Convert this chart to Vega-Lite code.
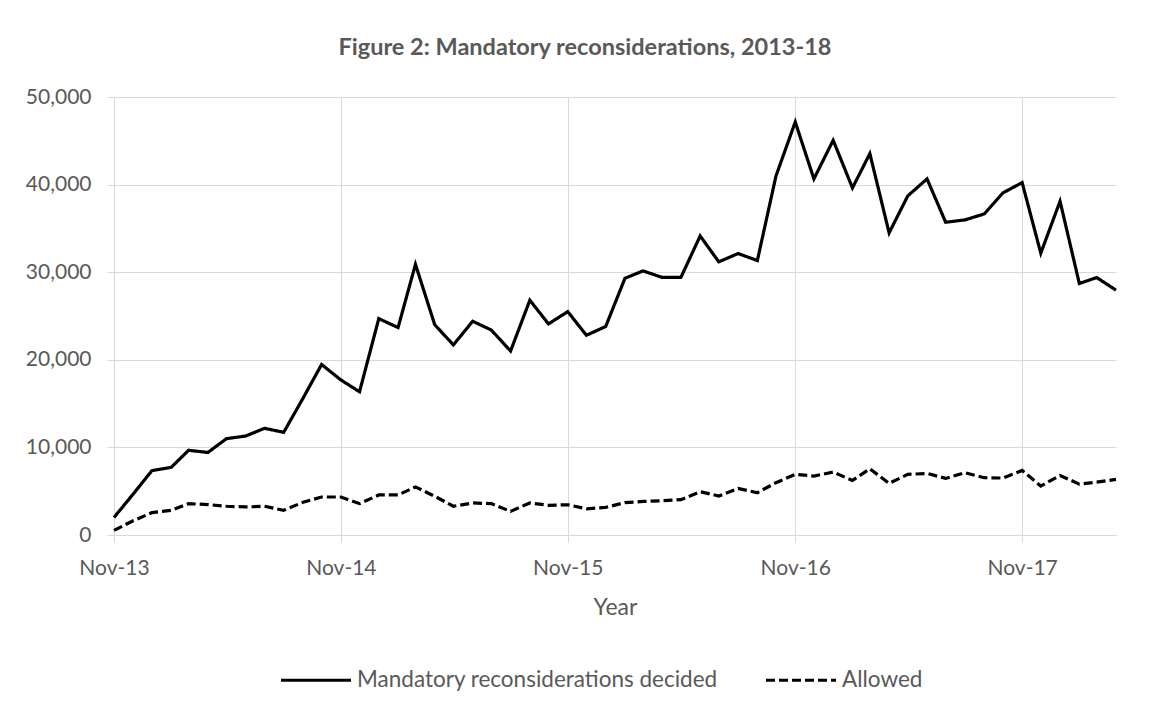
{
  "$schema": "https://vega.github.io/schema/vega-lite/v6.json",
  "width": 1002,
  "height": 438,
  "autosize": "none",
  "padding": {"left": 114, "top": 97, "right": 55, "bottom": 174},
  "background": "white",
  "title": {
    "text": "Figure 2: Mandatory reconsiderations, 2013-18",
    "anchor": "middle",
    "frame": "group",
    "dx": -30,
    "offset": 27,
    "font": "Lato",
    "fontSize": 23.5,
    "fontWeight": "bold",
    "color": "#595959"
  },
  "data": {
    "values": [
      {"date": "2013-11-01", "series": "Mandatory reconsiderations decided", "value": 2000},
      {"date": "2013-12-01", "series": "Mandatory reconsiderations decided", "value": 4600},
      {"date": "2014-01-01", "series": "Mandatory reconsiderations decided", "value": 7350},
      {"date": "2014-02-01", "series": "Mandatory reconsiderations decided", "value": 7720},
      {"date": "2014-03-01", "series": "Mandatory reconsiderations decided", "value": 9670},
      {"date": "2014-04-01", "series": "Mandatory reconsiderations decided", "value": 9420},
      {"date": "2014-05-01", "series": "Mandatory reconsiderations decided", "value": 11000},
      {"date": "2014-06-01", "series": "Mandatory reconsiderations decided", "value": 11300},
      {"date": "2014-07-01", "series": "Mandatory reconsiderations decided", "value": 12180},
      {"date": "2014-08-01", "series": "Mandatory reconsiderations decided", "value": 11720},
      {"date": "2014-09-01", "series": "Mandatory reconsiderations decided", "value": 15600},
      {"date": "2014-10-01", "series": "Mandatory reconsiderations decided", "value": 19470},
      {"date": "2014-11-01", "series": "Mandatory reconsiderations decided", "value": 17700},
      {"date": "2014-12-01", "series": "Mandatory reconsiderations decided", "value": 16350},
      {"date": "2015-01-01", "series": "Mandatory reconsiderations decided", "value": 24700},
      {"date": "2015-02-01", "series": "Mandatory reconsiderations decided", "value": 23680},
      {"date": "2015-03-01", "series": "Mandatory reconsiderations decided", "value": 30900},
      {"date": "2015-04-01", "series": "Mandatory reconsiderations decided", "value": 24000},
      {"date": "2015-05-01", "series": "Mandatory reconsiderations decided", "value": 21700},
      {"date": "2015-06-01", "series": "Mandatory reconsiderations decided", "value": 24400},
      {"date": "2015-07-01", "series": "Mandatory reconsiderations decided", "value": 23400},
      {"date": "2015-08-01", "series": "Mandatory reconsiderations decided", "value": 21000},
      {"date": "2015-09-01", "series": "Mandatory reconsiderations decided", "value": 26800},
      {"date": "2015-10-01", "series": "Mandatory reconsiderations decided", "value": 24100},
      {"date": "2015-11-01", "series": "Mandatory reconsiderations decided", "value": 25500},
      {"date": "2015-12-01", "series": "Mandatory reconsiderations decided", "value": 22800},
      {"date": "2016-01-01", "series": "Mandatory reconsiderations decided", "value": 23800},
      {"date": "2016-02-01", "series": "Mandatory reconsiderations decided", "value": 29300},
      {"date": "2016-03-01", "series": "Mandatory reconsiderations decided", "value": 30150},
      {"date": "2016-04-01", "series": "Mandatory reconsiderations decided", "value": 29400},
      {"date": "2016-05-01", "series": "Mandatory reconsiderations decided", "value": 29400},
      {"date": "2016-06-01", "series": "Mandatory reconsiderations decided", "value": 34140},
      {"date": "2016-07-01", "series": "Mandatory reconsiderations decided", "value": 31180},
      {"date": "2016-08-01", "series": "Mandatory reconsiderations decided", "value": 32130},
      {"date": "2016-09-01", "series": "Mandatory reconsiderations decided", "value": 31330},
      {"date": "2016-10-01", "series": "Mandatory reconsiderations decided", "value": 40990},
      {"date": "2016-11-01", "series": "Mandatory reconsiderations decided", "value": 47150},
      {"date": "2016-12-01", "series": "Mandatory reconsiderations decided", "value": 40650},
      {"date": "2017-01-01", "series": "Mandatory reconsiderations decided", "value": 45060},
      {"date": "2017-02-01", "series": "Mandatory reconsiderations decided", "value": 39620},
      {"date": "2017-03-01", "series": "Mandatory reconsiderations decided", "value": 43540},
      {"date": "2017-04-01", "series": "Mandatory reconsiderations decided", "value": 34490},
      {"date": "2017-05-01", "series": "Mandatory reconsiderations decided", "value": 38710},
      {"date": "2017-06-01", "series": "Mandatory reconsiderations decided", "value": 40650},
      {"date": "2017-07-01", "series": "Mandatory reconsiderations decided", "value": 35700},
      {"date": "2017-08-01", "series": "Mandatory reconsiderations decided", "value": 35970},
      {"date": "2017-09-01", "series": "Mandatory reconsiderations decided", "value": 36650},
      {"date": "2017-10-01", "series": "Mandatory reconsiderations decided", "value": 39050},
      {"date": "2017-11-01", "series": "Mandatory reconsiderations decided", "value": 40230},
      {"date": "2017-12-01", "series": "Mandatory reconsiderations decided", "value": 32170},
      {"date": "2018-01-01", "series": "Mandatory reconsiderations decided", "value": 38100},
      {"date": "2018-02-01", "series": "Mandatory reconsiderations decided", "value": 28710},
      {"date": "2018-03-01", "series": "Mandatory reconsiderations decided", "value": 29390},
      {"date": "2018-04-01", "series": "Mandatory reconsiderations decided", "value": 27950},
      {"date": "2013-11-01", "series": "Allowed", "value": 530},
      {"date": "2013-12-01", "series": "Allowed", "value": 1600},
      {"date": "2014-01-01", "series": "Allowed", "value": 2550},
      {"date": "2014-02-01", "series": "Allowed", "value": 2820},
      {"date": "2014-03-01", "series": "Allowed", "value": 3580},
      {"date": "2014-04-01", "series": "Allowed", "value": 3470},
      {"date": "2014-05-01", "series": "Allowed", "value": 3280},
      {"date": "2014-06-01", "series": "Allowed", "value": 3200},
      {"date": "2014-07-01", "series": "Allowed", "value": 3280},
      {"date": "2014-08-01", "series": "Allowed", "value": 2820},
      {"date": "2014-09-01", "series": "Allowed", "value": 3730},
      {"date": "2014-10-01", "series": "Allowed", "value": 4340},
      {"date": "2014-11-01", "series": "Allowed", "value": 4340},
      {"date": "2014-12-01", "series": "Allowed", "value": 3580},
      {"date": "2015-01-01", "series": "Allowed", "value": 4570},
      {"date": "2015-02-01", "series": "Allowed", "value": 4570},
      {"date": "2015-03-01", "series": "Allowed", "value": 5490},
      {"date": "2015-04-01", "series": "Allowed", "value": 4420},
      {"date": "2015-05-01", "series": "Allowed", "value": 3280},
      {"date": "2015-06-01", "series": "Allowed", "value": 3660},
      {"date": "2015-07-01", "series": "Allowed", "value": 3580},
      {"date": "2015-08-01", "series": "Allowed", "value": 2700},
      {"date": "2015-09-01", "series": "Allowed", "value": 3660},
      {"date": "2015-10-01", "series": "Allowed", "value": 3390},
      {"date": "2015-11-01", "series": "Allowed", "value": 3450},
      {"date": "2015-12-01", "series": "Allowed", "value": 2990},
      {"date": "2016-01-01", "series": "Allowed", "value": 3150},
      {"date": "2016-02-01", "series": "Allowed", "value": 3700},
      {"date": "2016-03-01", "series": "Allowed", "value": 3830},
      {"date": "2016-04-01", "series": "Allowed", "value": 3910},
      {"date": "2016-05-01", "series": "Allowed", "value": 4030},
      {"date": "2016-06-01", "series": "Allowed", "value": 4940},
      {"date": "2016-07-01", "series": "Allowed", "value": 4450},
      {"date": "2016-08-01", "series": "Allowed", "value": 5320},
      {"date": "2016-09-01", "series": "Allowed", "value": 4830},
      {"date": "2016-10-01", "series": "Allowed", "value": 5970},
      {"date": "2016-11-01", "series": "Allowed", "value": 6920},
      {"date": "2016-12-01", "series": "Allowed", "value": 6730},
      {"date": "2017-01-01", "series": "Allowed", "value": 7180},
      {"date": "2017-02-01", "series": "Allowed", "value": 6230},
      {"date": "2017-03-01", "series": "Allowed", "value": 7560},
      {"date": "2017-04-01", "series": "Allowed", "value": 5890},
      {"date": "2017-05-01", "series": "Allowed", "value": 6920},
      {"date": "2017-06-01", "series": "Allowed", "value": 7030},
      {"date": "2017-07-01", "series": "Allowed", "value": 6460},
      {"date": "2017-08-01", "series": "Allowed", "value": 7110},
      {"date": "2017-09-01", "series": "Allowed", "value": 6540},
      {"date": "2017-10-01", "series": "Allowed", "value": 6500},
      {"date": "2017-11-01", "series": "Allowed", "value": 7370},
      {"date": "2017-12-01", "series": "Allowed", "value": 5590},
      {"date": "2018-01-01", "series": "Allowed", "value": 6800},
      {"date": "2018-02-01", "series": "Allowed", "value": 5810},
      {"date": "2018-03-01", "series": "Allowed", "value": 6040},
      {"date": "2018-04-01", "series": "Allowed", "value": 6350}
    ]
  },
  "mark": {"type": "line", "color": "black", "strokeWidth": 3.2, "strokeCap": "butt", "strokeJoin": "miter"},
  "encoding": {
    "x": {
      "field": "date",
      "type": "temporal",
      "scale": {
        "type": "utc",
        "domain": [
          {"year": 2013, "month": "Nov", "date": 1, "utc": true},
          {"year": 2018, "month": "Apr", "date": 1, "utc": true}
        ]
      },
      "axis": {
        "title": "Year",
        "values": [
          {"year": 2013, "month": "Nov", "date": 1, "utc": true},
          {"year": 2014, "month": "Nov", "date": 1, "utc": true},
          {"year": 2015, "month": "Nov", "date": 1, "utc": true},
          {"year": 2016, "month": "Nov", "date": 1, "utc": true},
          {"year": 2017, "month": "Nov", "date": 1, "utc": true}
        ],
        "format": "%b-%y",
        "labelFont": "Lato",
        "labelFontSize": 21,
        "labelColor": "#595959",
        "labelPadding": 15,
        "labelFlush": false,
        "labelOverlap": false,
        "titleFont": "Lato",
        "titleFontSize": 23,
        "titleFontWeight": "normal",
        "titleColor": "#595959",
        "titlePadding": 18,
        "tickSize": 7,
        "tickColor": "#d9d9d9",
        "domainColor": "#d9d9d9",
        "grid": true,
        "gridColor": "#d9d9d9"
      }
    },
    "y": {
      "field": "value",
      "type": "quantitative",
      "scale": {"domain": [0, 50000], "nice": false},
      "axis": {
        "title": null,
        "values": [0, 10000, 20000, 30000, 40000, 50000],
        "format": ",.0f",
        "labelFont": "Lato",
        "labelFontSize": 21,
        "labelColor": "#595959",
        "labelPadding": 16,
        "tickSize": 7,
        "tickColor": "#d9d9d9",
        "domainColor": "#d9d9d9",
        "grid": true,
        "gridColor": "#d9d9d9"
      }
    },
    "strokeDash": {
      "field": "series",
      "type": "nominal",
      "scale": {
        "domain": ["Mandatory reconsiderations decided", "Allowed"],
        "range": [[1, 0], [9, 4]]
      },
      "legend": {
        "title": null,
        "orient": "none",
        "legendX": 165,
        "legendY": 546,
        "direction": "horizontal",
        "symbolType": "stroke",
        "symbolSize": 4900,
        "symbolStrokeWidth": 3.2,
        "symbolStrokeColor": "black",
        "labelFont": "Lato",
        "labelFontSize": 22.5,
        "labelColor": "#595959",
        "labelOffset": 4,
        "labelLimit": 600,
        "columnPadding": 41
      }
    }
  },
  "config": {"view": {"stroke": null}}
}
